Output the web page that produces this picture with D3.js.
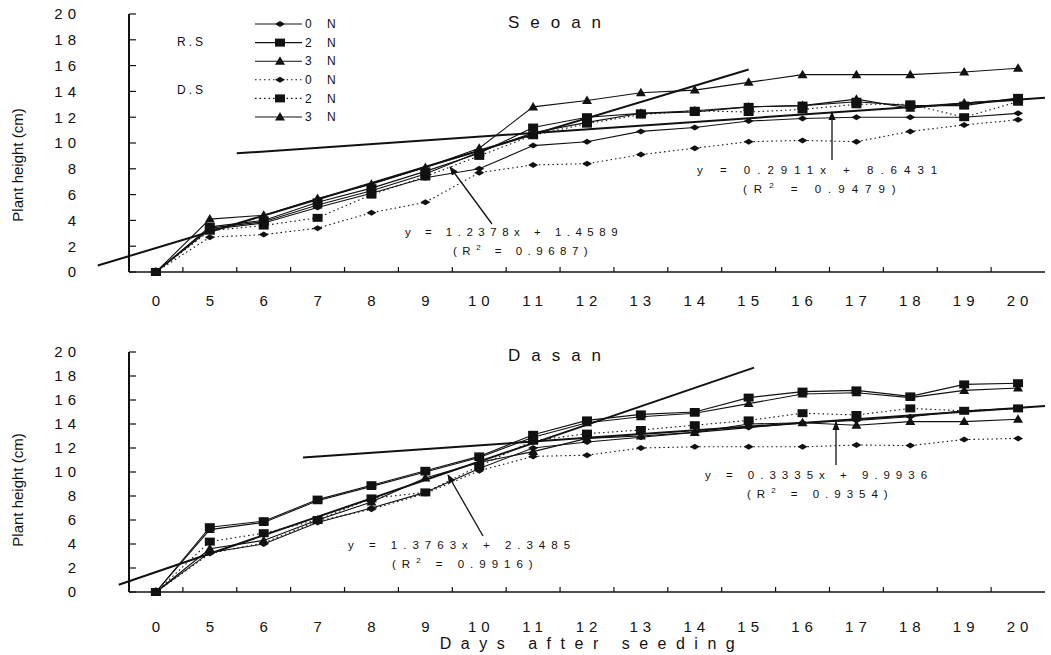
<!DOCTYPE html>
<html>
<head>
<meta charset="utf-8">
<script src="https://cdn.jsdelivr.net/npm/d3@7"></script>
<style>
  body { margin: 0; background: #fff; }
  text { font-family: Arial, "Liberation Sans", sans-serif; fill: #111; }
</style>
</head>
<body>
<svg id="chart" width="1051" height="655"></svg>
<script>
// days after seeding (categorical axis)
var days = ["0", "5", "6", "7", "8", "9", "10", "11", "12", "13", "14", "15", "16", "17", "18", "19", "20"];
var yTicks = [0, 2, 4, 6, 8, 10, 12, 14, 16, 18, 20];

// Seoan plant height (cm)
var seoanRS0 = [0, 3.3, 3.8, 5.0, 6.1, 7.3, 8.0, 9.8, 10.1, 10.9, 11.2, 11.7, 11.9, 12.0, 12.0, 12.0, 12.3];
var seoanRS2 = [0, 3.5, 4.0, 5.4, 6.5, 7.8, 9.2, 11.2, 12.0, 12.3, 12.4, 12.8, 12.9, 13.2, 12.9, 12.9, 13.5];
var seoanRS3 = [0, 4.1, 4.4, 5.7, 6.8, 8.1, 9.6, 12.8, 13.3, 13.9, 14.1, 14.7, 15.3, 15.3, 15.3, 15.5, 15.8];
var seoanDS0 = [0, 2.7, 2.9, 3.4, 4.6, 5.4, 7.7, 8.3, 8.4, 9.1, 9.6, 10.1, 10.2, 10.1, 10.9, 11.4, 11.8];
var seoanDS2 = [0, 3.2, 3.6, 4.2, 6.0, 7.4, 9.0, 10.6, 11.5, 12.2, 12.5, 12.4, 12.6, 13.0, 13.0, 12.0, 13.2];
var seoanDS3 = [0, 3.4, 3.9, 5.2, 6.3, 7.6, 9.3, 10.8, 11.6, 12.3, 12.5, 12.8, 12.9, 13.4, 12.7, 13.1, 13.4];

// Dasan plant height (cm)
var dasanRS0 = [0, 3.3, 4.0, 5.8, 7.0, 8.3, 10.3, 12.0, 12.5, 12.9, 13.3, 13.7, 14.1, 14.3, 14.6, 15.1, 15.3];
var dasanRS2 = [0, 5.4, 5.9, 7.7, 8.9, 10.1, 11.3, 13.1, 14.3, 14.8, 15.0, 16.2, 16.7, 16.8, 16.3, 17.3, 17.4];
var dasanRS3 = [0, 5.2, 5.8, 7.6, 8.8, 10.0, 11.2, 12.9, 14.1, 14.6, 14.9, 15.7, 16.5, 16.6, 16.2, 16.8, 17.0];
var dasanDS0 = [0, 3.2, 4.1, 5.9, 6.9, 8.2, 10.1, 11.3, 11.4, 12.0, 12.1, 12.1, 12.1, 12.25, 12.2, 12.7, 12.8];
var dasanDS2 = [0, 4.2, 4.9, 6.0, 7.8, 8.3, 10.5, 12.6, 13.2, 13.5, 13.9, 14.3, 14.9, 14.75, 15.3, 15.1, 15.3];
var dasanDS3 = [0, 3.6, 4.3, 6.0, 7.5, 9.5, 10.8, 11.7, 12.8, 13.0, 13.3, 14.0, 14.1, 13.9, 14.2, 14.2, 14.4];

// fitted lines as [day index, height] end points
var seoanFits = [[[-1.08, 0.5], [11.0, 15.7]], [[1.5, 9.2], [16.5, 13.5]]];
var dasanFits = [[[-0.69, 0.6], [11.1, 18.7]], [[2.73, 11.2], [16.5, 15.5]]];

// equation labels
var seoanEq = [["y = 1.2378x + 1.4589", "0.9687"], ["y = 0.2911x + 8.6431", "0.9479"]];
var dasanEq = [["y = 1.3763x + 2.3485", "0.9916"], ["y = 0.3335x + 9.9936", "0.9354"]];

var legendKeys = ["0 N", "2 N", "3 N", "0 N", "2 N", "3 N"];
var shapes = ["diamond", "square", "triangle", "diamond", "square", "triangle"];
var dotted = [false, false, false, true, true, false];

var svg = d3.select("#chart");

var x = d3.scaleBand().domain(days).range([129, 1045]).padding(0);
var xi = d3.scaleLinear().domain([0, days.length - 1])
  .range([x(days[0]) + x.bandwidth() / 2, x(days[days.length - 1]) + x.bandwidth() / 2]);

var shapePath = {
  diamond: "M-5,0L0,-3L5,0L0,3Z",
  square: "M-5,-4H5V4H-5Z",
  triangle: "M0,-5L5,3.5L-5,3.5Z"
};

svg.append("defs").append("marker")
  .attr("id", "head").attr("viewBox", "0 0 10 10").attr("refX", 9).attr("refY", 5)
  .attr("markerWidth", 7).attr("markerHeight", 7).attr("orient", "auto-start-reverse")
  .append("path").attr("d", "M0,1L10,5L0,9Z").attr("fill", "#111");

function panel(opt) {
  var y = d3.scaleLinear().domain([0, 20]).range([opt.bottom, opt.top]);
  var g = svg.append("g");

  // axes
  g.append("line").attr("x1", x.range()[0]).attr("x2", x.range()[0])
    .attr("y1", y(20)).attr("y2", y(0)).attr("stroke", "#111").attr("stroke-width", 2);
  g.append("line").attr("x1", x.range()[0]).attr("x2", x.range()[1])
    .attr("y1", y(0)).attr("y2", y(0)).attr("stroke", "#111").attr("stroke-width", 1.5);

  g.selectAll(".yt").data(yTicks).join("line")
    .attr("x1", x.range()[0]).attr("x2", x.range()[0] + 7)
    .attr("y1", d => y(d)).attr("y2", d => y(d))
    .attr("stroke", "#111").attr("stroke-width", 1.2);
  g.selectAll(".yl").data(yTicks).join("text")
    .attr("x", 81).attr("y", d => y(d)).attr("dy", "0.36em")
    .attr("text-anchor", "end").attr("font-size", 15).attr("letter-spacing", 5)
    .text(d => d);

  g.selectAll(".xt").data(days.slice(1)).join("line")
    .attr("x1", d => x(d)).attr("x2", d => x(d))
    .attr("y1", y(0)).attr("y2", y(0) - 5)
    .attr("stroke", "#111").attr("stroke-width", 1.2);
  g.selectAll(".xl").data(days).join("text")
    .attr("x", d => x(d) + x.bandwidth() / 2 + (d.length > 1 ? 2 : 0)).attr("y", opt.labelY)
    .attr("text-anchor", "middle").attr("font-size", 15).attr("letter-spacing", d => d.length > 1 ? 5 : 0)
    .text(d => d);

  g.append("text").attr("x", 18).attr("y", opt.ylabelY)
    .attr("transform", "rotate(-90,18," + opt.ylabelY + ")")
    .attr("text-anchor", "middle").attr("dy", "0.35em").attr("font-size", 15)
    .text("Plant height (cm)");

  g.append("text").attr("x", 560).attr("y", opt.titleY).attr("dy", "0.35em")
    .attr("text-anchor", "middle").attr("font-size", 17).attr("letter-spacing", 11)
    .text(opt.title);

  // data series
  var line = d3.line().x((d, i) => xi(i)).y(d => y(d));
  opt.series.forEach(function (s, k) {
    g.append("path").datum(s).attr("d", line).attr("fill", "none")
      .attr("stroke", "#111").attr("stroke-width", 1.1)
      .attr("stroke-dasharray", dotted[k] ? "1.5,3" : null);
    g.selectAll(null).data(s).join("path")
      .attr("d", shapePath[shapes[k]])
      .attr("transform", (d, i) => "translate(" + xi(i) + "," + y(d) + ")")
      .attr("fill", "#111");
  });

  // regression lines
  opt.fits.forEach(function (f) {
    g.append("line")
      .attr("x1", xi(f[0][0])).attr("y1", y(f[0][1]))
      .attr("x2", xi(f[1][0])).attr("y2", y(f[1][1]))
      .attr("stroke", "#111").attr("stroke-width", 2);
  });

  // equations with arrows
  opt.notes.forEach(function (n, k) {
    var eq = opt.eq[k];
    g.append("text").attr("x", n.x).attr("y", n.y).attr("font-size", 11.5).attr("letter-spacing", n.ls)
      .text(eq[0]);
    var t = g.append("text").attr("x", n.x + n.dx).attr("y", n.y + 19).attr("font-size", 11.5).attr("letter-spacing", n.ls);
    t.append("tspan").text("(R");
    t.append("tspan").attr("dy", -5).attr("font-size", 8).text("2");
    t.append("tspan").attr("dy", 5).text(" = " + eq[1] + ")");
    g.append("line").attr("x1", n.a[0]).attr("y1", n.a[1]).attr("x2", n.a[2]).attr("y2", n.a[3])
      .attr("stroke", "#111").attr("stroke-width", 1.3).attr("marker-end", "url(#head)");
  });
}

panel({
  top: 14, bottom: 272, labelY: 306, ylabelY: 165, titleY: 22, title: "Seoan",
  series: [seoanRS0, seoanRS2, seoanRS3, seoanDS0, seoanDS2, seoanDS3],
  fits: seoanFits, eq: seoanEq,
  notes: [{ x: 405, y: 236, dx: 48, ls: 5.5, a: [492, 224, 450, 167] },
          { x: 697, y: 174, dx: 46, ls: 7, a: [832, 160, 832, 112] }]
});

panel({
  top: 352, bottom: 592, labelY: 632, ylabelY: 490, titleY: 355, title: "Dasan",
  series: [dasanRS0, dasanRS2, dasanRS3, dasanDS0, dasanDS2, dasanDS3],
  fits: dasanFits, eq: dasanEq,
  notes: [{ x: 348, y: 549, dx: 44, ls: 6, a: [483, 536, 448, 475] },
          { x: 705, y: 479, dx: 42, ls: 6, a: [836, 465, 836, 422] }]
});

// legend
var lg = svg.append("g");
lg.append("text").attr("x", 177).attr("y", 42).attr("dy", "0.35em").attr("font-size", 12).attr("letter-spacing", 3).text("R.S");
lg.append("text").attr("x", 177).attr("y", 90).attr("dy", "0.35em").attr("font-size", 12).attr("letter-spacing", 3).text("D.S");
legendKeys.forEach(function (k, i) {
  var ly = 24 + i * 18.6;
  lg.append("line").attr("x1", 255).attr("x2", 302).attr("y1", ly).attr("y2", ly)
    .attr("stroke", "#111").attr("stroke-width", 1.1).attr("stroke-dasharray", dotted[i] ? "1.5,3" : null);
  lg.append("path").attr("d", shapePath[shapes[i]]).attr("transform", "translate(280," + ly + ")").attr("fill", "#111");
  lg.append("text").attr("x", 305).attr("y", ly).attr("dy", "0.35em").attr("font-size", 12)
    .attr("letter-spacing", 6).text(k);
});

svg.append("text").attr("x", 592).attr("y", 643).attr("dy", "0.35em").attr("text-anchor", "middle")
  .attr("font-size", 16).attr("letter-spacing", 9.5).text("Days after seeding");
</script>
</body>
</html>
